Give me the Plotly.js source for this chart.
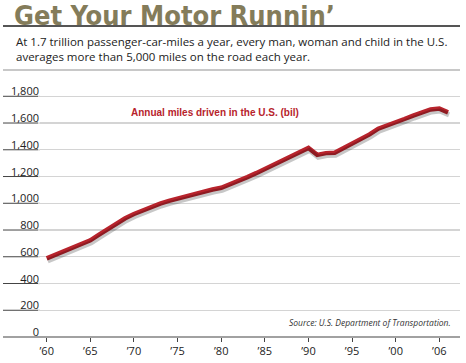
<!DOCTYPE html>
<html>
<head>
<meta charset="utf-8">
<script src="https://cdn.plot.ly/plotly-3.0.1.min.js"></script>
<style>html,body{margin:0;padding:0;background:#fff;}#chart{width:466px;height:363px;}</style>
</head>
<body>
<div id="chart"></div>
<script>
// Data (annual passenger-car miles driven in the U.S., billions)
const years = [1960,1961,1962,1963,1964,1965,1966,1967,1968,1969,1970,1971,1972,1973,1974,1975,1976,1977,1978,1979,1980,1981,1982,1983,1984,1985,1986,1987,1988,1989,1990,1991,1992,1993,1994,1995,1996,1997,1998,1999,2000,2001,2002,2003,2004,2005,2006];
const miles = [588,615,640,668,695,723,765,808,850,888,920,948,975,998,1018,1036,1055,1072,1088,1103,1116,1140,1168,1196,1225,1256,1288,1320,1352,1383,1414,1362,1375,1378,1410,1442,1478,1515,1558,1580,1606,1630,1656,1678,1702,1708,1680];
const xTickVals = [1960,1965,1970,1975,1980,1985,1990,1995,2000,2005];
const xTickText = ["\u201960","\u201965","\u201970","\u201975","\u201980","\u201985","\u201990","\u201995","\u201900","\u201906"];
const yTickVals = [0,200,400,600,800,1000,1200,1400,1600,1800];

const titleText = "Get Your Motor Runnin\u2019";
const subtitleText = "At 1.7 trillion passenger-car-miles a year, every man, woman and child in the U.S.<br>averages more than 5,000 miles on the road each year.";
const seriesLabel = "Annual miles driven in the U.S. (bil)";
const sourceText = "Source: U.S. Department of Transportation.";

// geometry helpers
const W = 466, H = 363, ML = 40, MR = 6, MT = 90, MB = 26;
const PW = W - ML - MR, PH = H - MT - MB;
const px2paperX = p => (p - ML) / PW;
const px2paperY = p => (H - MB - p) / PH;
const xRange = [1959.232, 1959.232 + PW / 8.725];
const yRange = [0, 1847];
const shadowDy = 2.5 * (yRange[1] - yRange[0]) / PH;
const shadowDx = 1 * (xRange[1] - xRange[0]) / PW;

const FONT = "Open Sans, Liberation Sans, sans-serif";
const RED = "#b7232c";

const traces = [
  {x: years, y: miles, xaxis: 'x2', yaxis: 'y2', type: 'scatter', mode: 'lines',
   line: {color: 'rgba(0,0,0,0.22)', width: 5}, hoverinfo: 'skip', showlegend: false},
  {x: years, y: miles, type: 'scatter', mode: 'lines',
   line: {color: RED, width: 4.5}, showlegend: false}
];

const shapes = [
  {type: 'line', xref: 'paper', yref: 'paper', x0: px2paperX(3), x1: px2paperX(460), y0: px2paperY(26), y1: px2paperY(26), line: {color: '#555', width: 2}},
  {type: 'line', xref: 'paper', yref: 'paper', x0: px2paperX(3), x1: px2paperX(460), y0: px2paperY(70), y1: px2paperY(70), line: {color: '#c8c8c8', width: 2}},
  {type: 'line', xref: 'paper', yref: 'paper', x0: px2paperX(3), x1: 1, y0: 0, y1: 0, line: {color: '#444', width: 1.2}}
];
yTickVals.filter(v => v > 0).forEach(v => {
  shapes.push({type: 'line', xref: 'paper', yref: 'y', x0: px2paperX(3), x1: px2paperX(38), y0: v, y1: v, line: {color: '#444', width: 1}});
  shapes.push({type: 'line', xref: 'paper', yref: 'y', x0: px2paperX(38), x1: 0, y0: v, y1: v, line: {color: '#d4d4d4', width: 1.3}});
});

const layout = {
  width: W, height: H,
  margin: {l: ML, r: MR, t: MT, b: MB},
  paper_bgcolor: '#fff', plot_bgcolor: '#fff',
  showlegend: false,
  title: {text: titleText, font: {family: "Liberation Sans Narrow, DejaVu Sans Condensed, sans-serif", size: 27, color: '#847c5a', weight: 'bold'},
          x: 14 / W, xanchor: 'left', xref: 'container', y: 1 - 16 / H, yanchor: 'middle', yref: 'container'},
  xaxis: {range: xRange, tickvals: xTickVals, ticktext: xTickText, ticks: 'outside', ticklen: 4, tickwidth: 1, tickcolor: '#444',
          showgrid: false, zeroline: false, showline: false, tickfont: {family: FONT, size: 11, color: '#222'}, fixedrange: true},
  yaxis: {range: yRange, tickvals: yTickVals, tickformat: ',d', ticks: '', showgrid: true, gridcolor: '#d4d4d4', gridwidth: 1.3,
          zeroline: false, showline: false, ticklabelposition: 'outside top', ticklabelshift: 3,
          tickfont: {family: FONT, size: 11, color: '#222'}, fixedrange: true},
  xaxis2: {range: [xRange[0] - shadowDx, xRange[1] - shadowDx], overlaying: 'x', visible: false},
  yaxis2: {range: [yRange[0] + shadowDy, yRange[1] + shadowDy], overlaying: 'y', visible: false},
  shapes: shapes,
  annotations: [
    {text: subtitleText, xref: 'paper', yref: 'paper', x: px2paperX(14), y: px2paperY(32), xanchor: 'left', yanchor: 'top', align: 'left', showarrow: false,
     font: {family: FONT, size: 11.5, color: '#222'}},
    {text: seriesLabel, xref: 'paper', yref: 'paper', x: px2paperX(129), y: px2paperY(112.7), xanchor: 'left', yanchor: 'middle', showarrow: false,
     font: {family: "Liberation Sans, Arial, sans-serif", size: 10, color: RED, weight: 'bold'}},
    {text: sourceText, xref: 'paper', yref: 'paper', x: px2paperX(453), y: px2paperY(322.7), xanchor: 'right', yanchor: 'middle', showarrow: false,
     font: {family: FONT, size: 8.5, color: '#333', style: 'italic'}}
  ]
};

Plotly.newPlot('chart', traces, layout, {displayModeBar: false, staticPlot: true});
</script>
</body>
</html>
